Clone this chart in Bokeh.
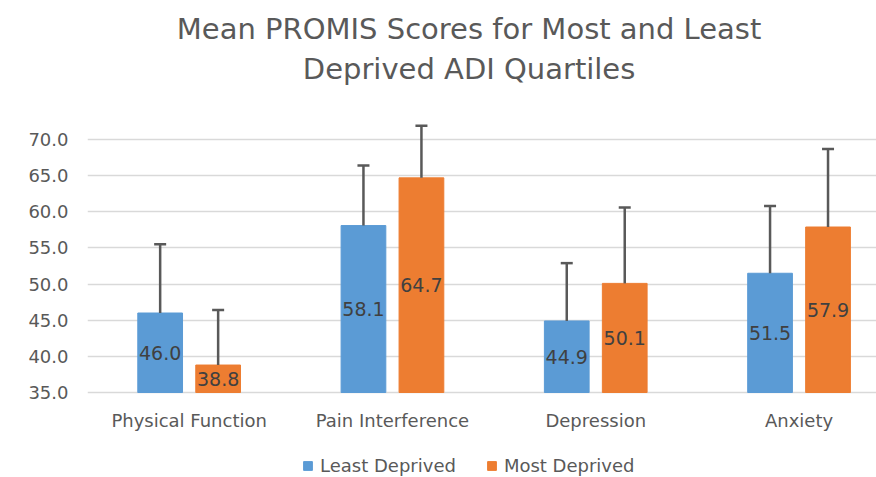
from bokeh.plotting import figure
from bokeh.models import (ColumnDataSource, Whisker, TeeHead, Label, Legend, LegendItem,
                          FixedTicker, PrintfTickFormatter)
from bokeh.embed import file_html
from bokeh.resources import INLINE

categories = ["Physical Function", "Pain Interference", "Depression", "Anxiety"]
series_names = ["Least Deprived", "Most Deprived"]
least_mean = [46.0, 58.1, 44.9, 51.5]
most_mean = [38.8, 64.7, 50.1, 57.9]
least_err = [9.5, 8.3, 8.0, 9.3]
most_err = [7.6, 7.2, 10.5, 10.8]
y_ticks = [35, 40, 45, 50, 55, 60, 65, 70]
title_lines = ["Mean PROMIS Scores for Most and Least", "Deprived ADI Quartiles"]
colors = ["#5B9BD5", "#ED7D31"]

BASE = 35.0
TEXT_GRAY = "#595959"
FONT = "DejaVu Sans"

# frame spans the whole height so title, category labels and legend are not clipped
p = figure(width=876, height=477, output_backend="svg", toolbar_location=None,
           x_range=(0, 3.881), y_range=(23.24, 89.24),
           min_border_left=87, min_border_right=0, min_border_top=0, min_border_bottom=0)
p.outline_line_color = None
p.background_fill_color = "white"
p.border_fill_color = "white"

centers = [i + 0.5 for i in range(len(categories))]
offset = 0.1426
bar_w = 0.22

renderers = []
for means, errs, color, sign in [(least_mean, least_err, colors[0], -1),
                                 (most_mean, most_err, colors[1], 1)]:
    xs = [c + sign * offset for c in centers]
    src = ColumnDataSource(dict(
        x=xs, top=means, upper=[m + e for m, e in zip(means, errs)],
        mid=[(BASE + m) / 2 for m in means],
        lab=["{:.1f}".format(m) for m in means]))
    r = p.vbar(x="x", top="top", bottom=BASE, width=bar_w, source=src,
               fill_color=color, line_color=color, line_width=1)
    renderers.append(r)
    w = Whisker(source=src, base="x", lower="top", upper="upper", dimension="height",
                line_color=TEXT_GRAY, line_width=2.5, level="annotation",
                upper_head=TeeHead(size=12, line_color=TEXT_GRAY, line_width=2.5),
                lower_head=None)
    p.add_layout(w)
    p.text(x="x", y="mid", text="lab", source=src, text_align="center",
           text_baseline="middle", text_color="#404040", text_font_size="19px",
           text_font={"value": FONT})

# y axis and grid
p.xgrid.visible = False
p.ygrid.grid_line_color = "#d9d9d9"
p.ygrid.grid_line_width = 1.5
p.yaxis.ticker = FixedTicker(ticks=y_ticks)
p.yaxis.formatter = PrintfTickFormatter(format="%.1f")
p.yaxis.axis_line_color = None
p.yaxis.major_tick_line_color = None
p.yaxis.minor_tick_line_color = None
p.yaxis.major_label_standoff = 13
p.yaxis.major_label_text_font_size = "18px"
p.yaxis.major_label_text_color = TEXT_GRAY
p.yaxis.major_label_text_font = FONT

# category labels (x axis)
p.xaxis.visible = False
cat_src = ColumnDataSource(dict(x=centers, y=[BASE - 3.87] * len(centers), t=categories))
p.text(x="x", y="y", text="t", source=cat_src, text_align="center", text_baseline="middle",
       text_font_size="18px", text_color=TEXT_GRAY, text_font={"value": FONT})

# title (two centred lines)
for line, yv in zip(title_lines, [85.36, 79.82]):
    p.add_layout(Label(x=1.877, y=yv, text=line, text_align="center", text_baseline="middle",
                       text_font_size="29px", text_color=TEXT_GRAY, text_font=FONT))

legend = Legend(items=[LegendItem(label=n, renderers=[r]) for n, r in zip(series_names, renderers)],
                orientation="horizontal", location=(215, 1),
                glyph_width=11, glyph_height=11, label_standoff=7, spacing=30,
                padding=0, margin=0, border_line_color=None, background_fill_alpha=0,
                label_text_font_size="18px", label_text_color=TEXT_GRAY, label_text_font=FONT)
p.add_layout(legend, "center")

open("out.html", "w").write(file_html(p, INLINE))
